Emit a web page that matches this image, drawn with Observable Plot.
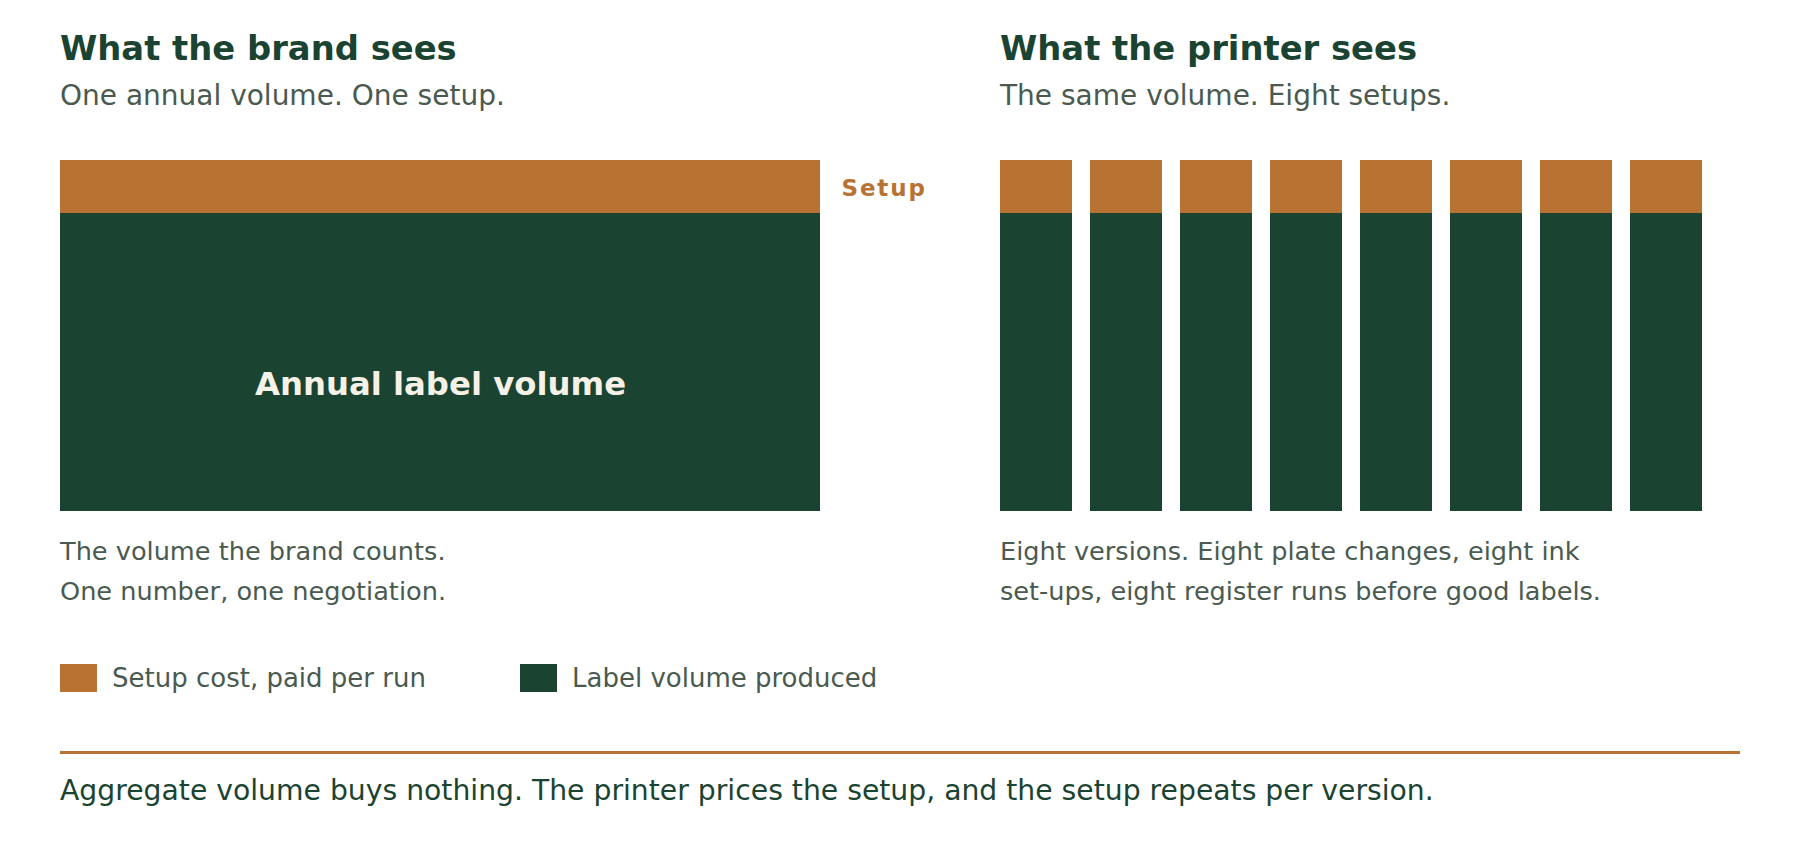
<!DOCTYPE html>
<html>
<head>
<meta charset="utf-8">
<script src="https://cdn.jsdelivr.net/npm/d3@7"></script>
<script src="https://cdn.jsdelivr.net/npm/@observablehq/plot@0.6"></script>
<style>
  html, body { margin: 0; padding: 0; background: #ffffff; }
  body { font-family: "DejaVu Sans", sans-serif; }
  #page { position: relative; width: 1800px; height: 860px; overflow: hidden; }
  .title { position: absolute; font-size: 33.8px; font-weight: bold; color: #1b4332; line-height: 40px; white-space: nowrap; }
  .sub { position: absolute; font-size: 28px; color: #4a5a50; line-height: 34px; white-space: nowrap; }
  .cap { position: absolute; font-size: 25.6px; color: #4a5a50; line-height: 40px; }
  .plot { position: absolute; }
  #legend { position: absolute; left: 60px; top: 663px; display: flex; align-items: center; font-size: 26px; color: #4a5a50; }
  .sw { display: inline-block; width: 37px; height: 28px; margin-right: 15px; }
  .item { display: flex; align-items: center; width: 460px; }
  #rule { position: absolute; left: 60px; top: 751px; width: 1680px; height: 3px; background: #b87333; }
  #footer { position: absolute; left: 60px; top: 774px; font-size: 28.25px; color: #1b4332; line-height: 34px; white-space: nowrap; }
</style>
</head>
<body>
<div id="page">
  <div class="title" style="left:60px; top:29px;">What the brand sees</div>
  <div class="sub" style="left:60px; top:79px;">One annual volume. One setup.</div>
  <div class="title" style="left:1000px; top:29px;">What the printer sees</div>
  <div class="sub" style="left:1000px; top:79px;">The same volume. Eight setups.</div>
  <div id="plotLeft" class="plot" style="left:60px; top:140px;"></div>
  <div id="plotRight" class="plot" style="left:1000px; top:140px;"></div>
  <div class="cap" style="left:60px; top:531px; width:760px;">The volume the brand counts.<br>One number, one negotiation.</div>
  <div class="cap" style="left:1000px; top:531px; width:720px;">Eight versions. Eight plate changes, eight ink<br>set-ups, eight register runs before good labels.</div>
  <div id="legend"></div>
  <div id="rule"></div>
  <div id="footer">Aggregate volume buys nothing. The printer prices the setup, and the setup repeats per version.</div>
</div>
<script>
// ---- data ----
const parts = ["Label volume produced", "Setup cost, paid per run"];
const partColors = ["#1b4332", "#b87333"];
const brandRuns = ["Annual"];
const printerRuns = ["V1", "V2", "V3", "V4", "V5", "V6", "V7", "V8"];
const volumePerRun = 85;
const setupPerRun = 15;
const setupLabel = "Setup";
const volumeLabel = "Annual label volume";
const volumeLabelY = 36;

// build rows
function rowsFor(runs) {
  const rows = [];
  for (const r of runs) {
    rows.push({run: r, part: parts[0], value: volumePerRun});
    rows.push({run: r, part: parts[1], value: setupPerRun});
  }
  return rows;
}
const colorScale = {domain: parts, range: partColors};
const yScale = {domain: [0, volumePerRun + setupPerRun], axis: null};

const left = Plot.plot({
  width: 880, height: 380,
  marginTop: 20, marginBottom: 9, marginLeft: 0, marginRight: 120,
  x: {domain: brandRuns, padding: 0, axis: null},
  y: yScale,
  color: colorScale,
  marks: [
    Plot.barY(rowsFor(brandRuns), {x: "run", y: "value", fill: "part", order: parts, inset: 0, shapeRendering: "crispEdges"}),
    Plot.text([{y: volumePerRun + setupPerRun / 2}], {
      y: "y", frameAnchor: "right", textAnchor: "start", dx: 21, dy: 2,
      text: () => setupLabel, fill: "#b87333", fontSize: 23, fontWeight: "bold"
    }),
    Plot.text([{run: brandRuns[0], y: volumeLabelY}], {
      x: "run", y: "y", text: () => volumeLabel, fill: "#f6f1e6",
      fontSize: 32.3, fontWeight: "bold", textAnchor: "middle"
    })
  ],
  style: {fontFamily: "DejaVu Sans, sans-serif", background: "transparent", overflow: "visible"}
});
d3.select(left).selectAll("text").filter(function () { return this.textContent === setupLabel; })
  .style("letter-spacing", "0.08em");
document.getElementById("plotLeft").appendChild(left);

const right = Plot.plot({
  width: 702, height: 380,
  marginTop: 20, marginBottom: 9, marginLeft: 0, marginRight: 0,
  x: {domain: printerRuns, paddingInner: 0.2, paddingOuter: 0, axis: null},
  y: yScale,
  color: colorScale,
  marks: [
    Plot.barY(rowsFor(printerRuns), {x: "run", y: "value", fill: "part", order: parts, inset: 0, shapeRendering: "crispEdges"})
  ],
  style: {fontFamily: "DejaVu Sans, sans-serif", background: "transparent"}
});
document.getElementById("plotRight").appendChild(right);

// legend
const legend = document.getElementById("legend");
const legendOrder = [parts[1], parts[0]];
for (const p of legendOrder) {
  const item = document.createElement("div");
  item.className = "item";
  const sw = document.createElement("span");
  sw.className = "sw";
  sw.style.background = partColors[parts.indexOf(p)];
  item.appendChild(sw);
  const t = document.createElement("span");
  t.textContent = p;
  item.appendChild(t);
  legend.appendChild(item);
}
</script>
</body>
</html>
